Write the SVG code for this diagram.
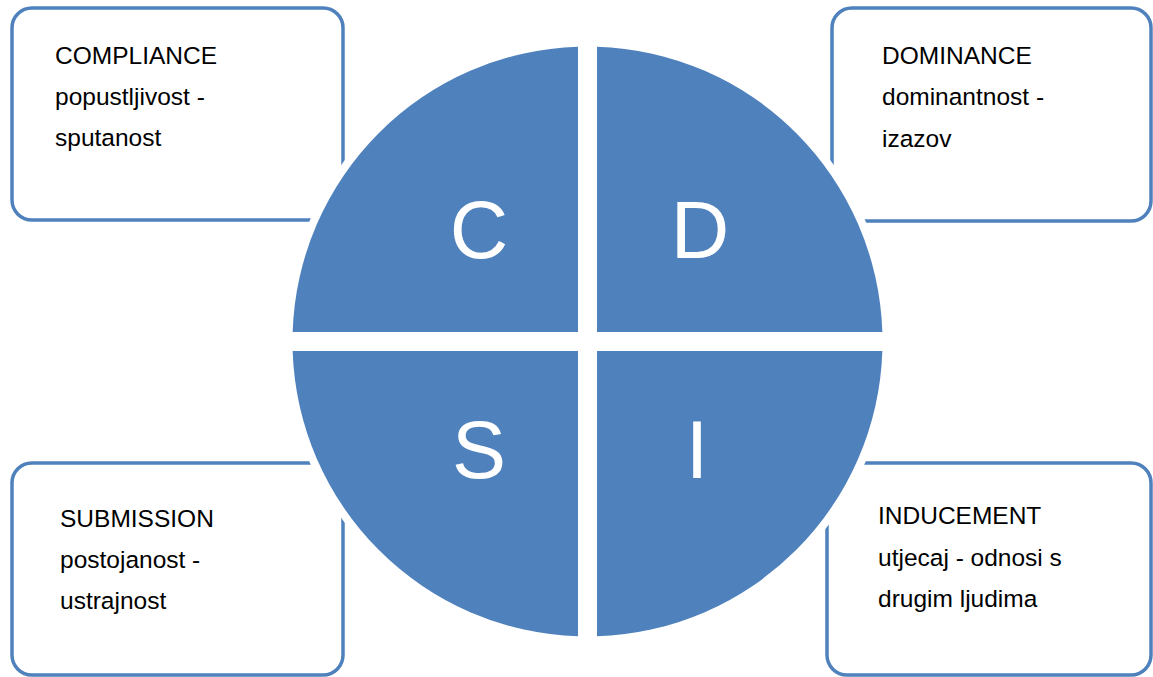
<svg xmlns="http://www.w3.org/2000/svg" width="1153" height="677" viewBox="0 0 1153 677">
<style>
.box{fill:#fff;stroke:#4F81BD;stroke-width:3.5}
.q{fill:#4F81BD}
.t{font-family:"Liberation Sans",Arial,sans-serif;font-size:24.5px;fill:#000}
.big{font-family:"Liberation Sans",Arial,sans-serif;font-size:81px;fill:#fff;text-anchor:middle}
</style>
<rect width="1153" height="677" fill="#fff"/>
<g id="box-compliance">
<rect class="box" x="12" y="8" width="331" height="212" rx="20"/>
<text class="t" x="55" y="64">COMPLIANCE</text>
<text class="t" x="55" y="105">popustljivost -</text>
<text class="t" x="55" y="146">sputanost</text>
</g>
<g id="box-dominance">
<rect class="box" x="832" y="8" width="319" height="213" rx="20"/>
<text class="t" x="882" y="64">DOMINANCE</text>
<text class="t" x="882" y="105">dominantnost -</text>
<text class="t" x="882" y="147">izazov</text>
</g>
<g id="box-submission">
<rect class="box" x="12" y="463" width="331" height="212" rx="20"/>
<text class="t" x="60" y="527">SUBMISSION</text>
<text class="t" x="60" y="568">postojanost -</text>
<text class="t" x="60" y="609">ustrajnost</text>
</g>
<g id="box-inducement">
<rect class="box" x="827" y="463" width="324" height="212" rx="20"/>
<text class="t" x="878" y="524">INDUCEMENT</text>
<text class="t" x="878" y="566">utjecaj - odnosi s</text>
<text class="t" x="878" y="607">drugim ljudima</text>
</g>
<g id="connectors"></g>
<circle cx="587.5" cy="341.5" r="303" fill="#fff"/>
<g id="quadrant-c">
<path class="q" d="M578 332 H292.65 A295 295 0 0 1 578 46.65 Z"/>
<text class="big" x="479" y="258">C</text>
</g>
<g id="quadrant-d">
<path class="q" d="M597 332 V46.65 A295 295 0 0 1 882.35 332 Z"/>
<text class="big" x="700" y="258">D</text>
</g>
<g id="quadrant-i">
<path class="q" d="M597 351 H882.35 A295 295 0 0 1 597 636.35 Z"/>
<text class="big" x="697" y="478">I</text>
</g>
<g id="quadrant-s">
<path class="q" d="M578 351 V636.35 A295 295 0 0 1 292.65 351 Z"/>
<text class="big" x="479" y="478">S</text>
</g>
</svg>
